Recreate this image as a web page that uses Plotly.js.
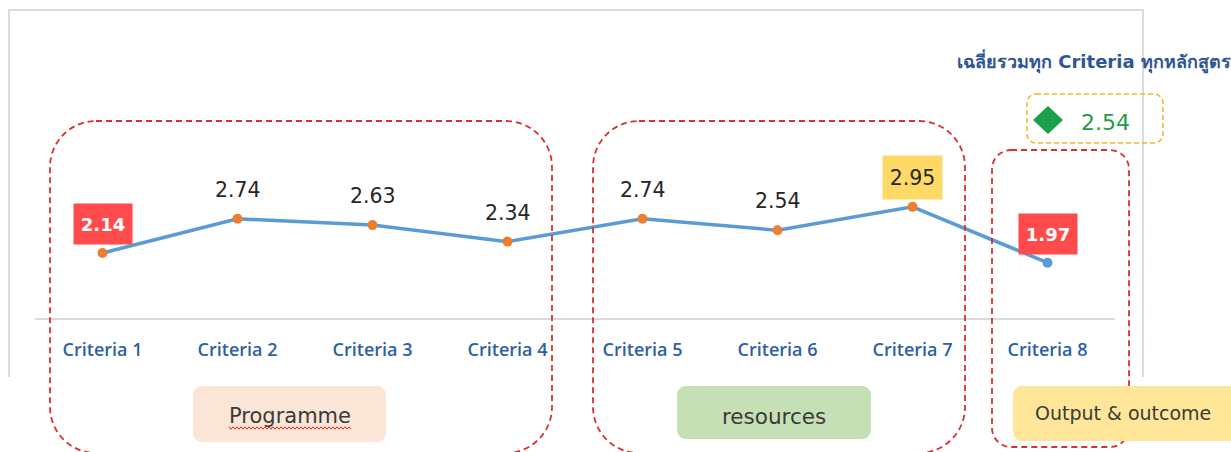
<!DOCTYPE html>
<html>
<head>
<meta charset="utf-8">
<script src="https://cdn.plot.ly/plotly-3.0.1.min.js"></script>
<style>html,body{margin:0;padding:0;background:#fff;}#chart{width:1231px;height:452px;}</style>
</head>
<body>
<div id="chart"></div>
<script>
// ---- data ----
const categories = ['Criteria 1','Criteria 2','Criteria 3','Criteria 4','Criteria 5','Criteria 6','Criteria 7','Criteria 8'];
const scores = [2.14, 2.74, 2.63, 2.34, 2.74, 2.54, 2.95, 1.97];
const highlight = ['low','','','','','','high','low'];
const overallAverage = 2.54;
const averageTitle = 'เฉลี่ยรวมทุก Criteria ทุกหลักสูตร';
const groupNames = ['Programme', 'resources', 'Output & outcome'];

// ---- layout helpers (pixel -> paper) ----
const W = 1231, H = 452;
const mL = 35, mR = W - 1115, mT = 10, mB = H - 318;
const PW = W - mL - mR, PH = H - mT - mB;
const X = px => (px - mL) / PW;
const Y = py => (H - mB - py) / PH;
const F = 'DejaVu Sans, Noto Sans, sans-serif';
const FO = 'Open Sans, DejaVu Sans, sans-serif';

function roundRect(x0, y0, x1, y1, r) {
  const p = (x, y) => X(x).toFixed(5) + ',' + Y(y).toFixed(5);
  return 'M' + p(x0 + r, y0) + ' L' + p(x1 - r, y0) + ' C' + p(x1 - r * 0.45, y0) + ' ' + p(x1, y0 + r * 0.45) + ' ' + p(x1, y0 + r) +
    ' L' + p(x1, y1 - r) + ' C' + p(x1, y1 - r * 0.45) + ' ' + p(x1 - r * 0.45, y1) + ' ' + p(x1 - r, y1) +
    ' L' + p(x0 + r, y1) + ' C' + p(x0 + r * 0.45, y1) + ' ' + p(x0, y1 - r * 0.45) + ' ' + p(x0, y1 - r) +
    ' L' + p(x0, y0 + r) + ' C' + p(x0, y0 + r * 0.45) + ' ' + p(x0 + r * 0.45, y0) + ' ' + p(x0 + r, y0) + ' Z';
}
function pathPx(pts) {
  return pts.map((q, i) => (i ? 'L' : 'M') + X(q[0]).toFixed(5) + ',' + Y(q[1]).toFixed(5)).join(' ');
}

const blue = '#5B9BD5', orange = '#ED7D31';
const markerColors = scores.map((v, i) => i === scores.length - 1 ? blue : orange);

const trace = {
  x: categories, y: scores, type: 'scatter', mode: 'lines+markers',
  line: {color: blue, width: 3.5},
  marker: {color: markerColors, size: 10},
  hoverinfo: 'none', showlegend: false
};

const annotations = [];
scores.forEach((v, i) => {
  const h = highlight[i];
  const a = {
    x: categories[i], y: v, xref: 'x', yref: 'y', showarrow: false, yshift: 29,
    xanchor: 'center', yanchor: 'middle',
    text: v.toFixed(2), font: {family: F, size: 20.5, color: '#262626'}
  };
  if (h === 'low') {
    Object.assign(a, {bgcolor: '#FF4B4B', width: 56, height: 38, font: {family: F, size: 18, color: '#FFFFFF', weight: 'bold'}});
  } else if (h === 'high') {
    Object.assign(a, {bgcolor: '#FFD966', width: 57, height: 41});
  }
  annotations.push(a);
});

const pa = (x, y, text, font) => ({xref: 'paper', yref: 'paper', x: X(x), y: Y(y), xanchor: 'center', yanchor: 'middle',
  showarrow: false, text: text, font: font});

// overall average block
annotations.push(pa(1094, 62, averageTitle, {family: F, size: 18, color: '#2F5597', weight: 600}));
annotations.push(pa(1105, 122, overallAverage.toFixed(2), {family: F, size: 22, color: '#1E9E48'}));

// group labels
const groupBoxes = [
  {x0: 193, x1: 386, y0: 386, y1: 442, fill: '#FBE5D6', size: 21, cx: 290, cy: 416},
  {x0: 677, x1: 871, y0: 386, y1: 439, fill: '#C5E0B4', size: 21.5, cx: 774, cy: 416},
  {x0: 1013, x1: 1240, y0: 386, y1: 441, fill: '#FFE699', size: 19, cx: 1123, cy: 413}
];

const shapes = [];
// chart frame (left, top, right)
shapes.push({type: 'path', xref: 'paper', yref: 'paper',
  path: pathPx([[9, 377], [9, 10], [1143, 10], [1143, 377]]), line: {color: '#D0D0D0', width: 1.5}});

// red dashed group outlines
const red = '#D9302B';
[[50, 121, 552, 453, 46], [593, 121, 965, 453, 46], [992, 150, 1129, 447, 19]].forEach(b => {
  shapes.push({type: 'path', xref: 'paper', yref: 'paper', path: roundRect(b[0], b[1], b[2], b[3], b[4]),
    line: {color: red, width: 1.8, dash: '6px,4px'}});
});
groupBoxes.forEach((g, i) => {
  shapes.push({type: 'path', xref: 'paper', yref: 'paper', path: roundRect(g.x0, g.y0, g.x1, g.y1, 9),
    fillcolor: g.fill, line: {width: 0}});
  annotations.push(pa(g.cx, g.cy, groupNames[i], {family: F, size: g.size, color: '#3A3A3A'}));
});
// average box
shapes.push({type: 'path', xref: 'paper', yref: 'paper', path: roundRect(1027, 94, 1163, 143, 9),
  line: {color: '#F2B824', width: 1.5, dash: '5px,3px'}});
// diamond
shapes.push({type: 'path', xref: 'paper', yref: 'paper',
  path: pathPx([[1048, 106], [1063, 120], [1048, 134], [1033, 120]]) + ' Z', fillcolor: '#1AA04B', line: {width: 0}});
// squiggle under Programme
const sq = [];
for (let x = 229, k = 0; x <= 352; x += 2, k++) sq.push([x, 428 + (k % 2 ? 1.2 : -1.2)]);
shapes.push({type: 'path', xref: 'paper', yref: 'paper', path: pathPx(sq), line: {color: '#E03030', width: 1}});

const layout = {
  width: W, height: H,
  margin: {l: mL, r: mR, t: mT, b: mB, pad: 0},
  paper_bgcolor: '#FFFFFF', plot_bgcolor: '#FFFFFF',
  showlegend: false,
  xaxis: {type: 'category', range: [-0.5, 7.5], showgrid: false, zeroline: false,
    showline: true, linecolor: '#D9D9D9', linewidth: 1.5, ticks: '',
    ticklabelstandoff: 15,
    tickfont: {family: FO, size: 18, color: '#2E5FA3', weight: 600}, fixedrange: true},
  yaxis: {range: [1, 1 + PH / 57], visible: false, showgrid: false, zeroline: false, fixedrange: true},
  annotations: annotations,
  shapes: shapes
};

Plotly.newPlot('chart', [trace], layout, {staticPlot: true, displayModeBar: false});
</script>
</body>
</html>
